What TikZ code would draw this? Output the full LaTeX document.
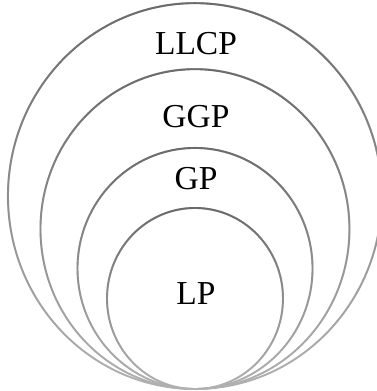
\documentclass[tikz,border=0pt]{standalone}
\usepackage{fontspec}
\setmainfont{Liberation Serif}
\usetikzlibrary{fadings}
\tikzfading[name=ringfade, top color=transparent!0, middle color=transparent!15, bottom color=transparent!100]
\begin{document}
\begin{tikzpicture}[x=1pt,y=1pt,
  ring/.style={line width=1.9pt},
  lbl/.style={inner sep=0pt, font=\fontsize{33.5}{40}\selectfont}]
\useasboundingbox (0,0) rectangle (377,391);
\foreach \cy/\rx/\ry in {195/187/193, 162/154.5/160, 122.5/117.5/120.5, 92.5/88/90.5} {
  \draw[ring, black!30] (195,\cy) ellipse [x radius=\rx pt, y radius=\ry pt];
  \draw[ring, black!58, path fading=ringfade] (195,\cy) ellipse [x radius=\rx pt, y radius=\ry pt];
}
\node[lbl] (tllcp) at (196,347) {LLCP};
\node[lbl] (tggp) at (196,274) {GGP};
\node[lbl] (tgp) at (196,212) {GP};
\node[lbl] (tlp) at (196,97) {LP};
\end{tikzpicture}
\end{document}
